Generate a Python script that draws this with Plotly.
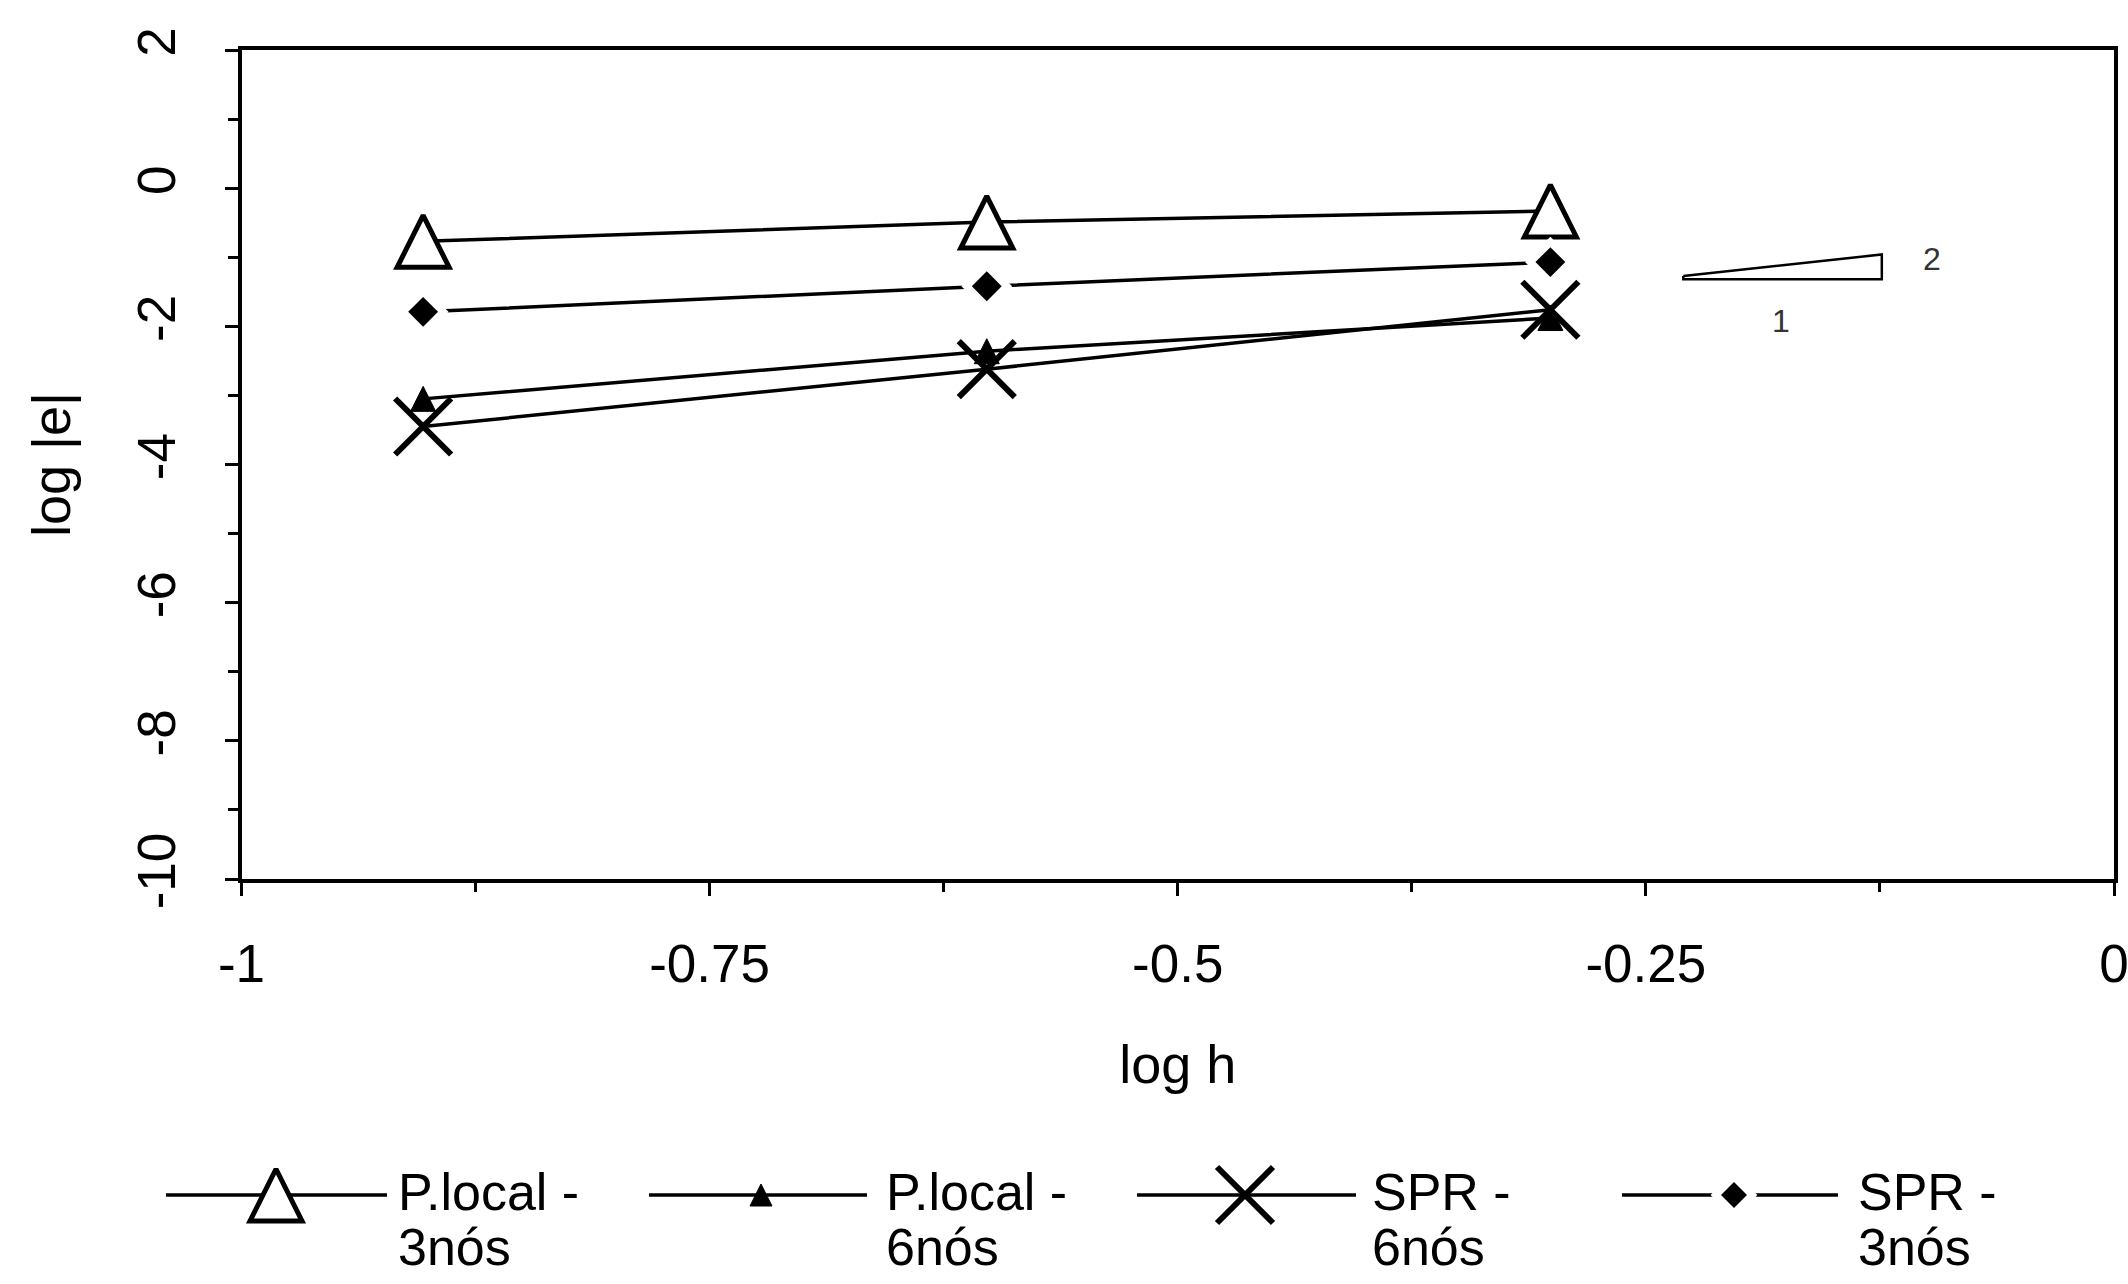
import plotly.graph_objects as go

W, H = 2128, 1284

# ---------------- data ----------------
log_h = [-0.903, -0.602, -0.301]
plocal_3nos = [-0.77, -0.49, -0.33]
plocal_6nos = [-3.05, -2.36, -1.88]
spr_6nos = [-3.45, -2.62, -1.76]
spr_3nos = [-1.79, -1.42, -1.07]

legend_line1 = ["P.local -", "P.local -", "SPR -", "SPR -"]
legend_line2 = ["3nós", "6nós", "6nós", "3nós"]
series_names = ["P.local - 3nós", "P.local - 6nós", "SPR - 6nós", "SPR - 3nós"]

x_tickvals = [-1, -0.75, -0.5, -0.25, 0]
x_ticktext = ["-1", "-0.75", "-0.5", "-0.25", "0"]
y_tickvals = [2, 0, -2, -4, -6, -8, -10]
y_ticktext = ["2", "0", "-2", "-4", "-6", "-8", "-10"]

# slope indicator (2:1) drawn in data units
slope_x = [-0.230, -0.124, -0.124, -0.230, -0.230]
slope_y = [-1.27, -0.96, -1.32, -1.32, -1.27]
slope_labels = ["2", "1"]
slope_label_x = [-0.097, -0.178]
slope_label_y = [-1.03, -1.93]

# ---------------- layout constants (pixels) ----------------
PL, PR, PT, PB = 241.5, 2114, 50, 879
xdom = [PL / W, PR / W]
ydom = [1 - PB / H, 1 - PT / H]
FONT = "Liberation Sans, Arial, sans-serif"
LW = 3.5

def tri_open(size):
    return dict(symbol="arrow-down", angle=180, standoff=size / 2, size=size,
                color="white", line=dict(color="black", width=5))

def tri_filled(size):
    return dict(symbol="arrow-down", angle=180, standoff=size / 2, size=size,
                color="black", line=dict(color="black", width=1))

def x_mark(size):
    return dict(symbol="x-thin-open", size=size, color="black",
                line=dict(color="black", width=6))

def diamond(size):
    return dict(symbol="diamond", size=size, color="black", line=dict(width=0))

def diamond_halo(size):
    return dict(symbol="diamond", size=size + 16, color="white", line=dict(width=0))

fig = go.Figure()

# ---------------- data series ----------------
fig.add_trace(go.Scatter(x=log_h, y=plocal_3nos, name=series_names[0], mode="lines+markers",
                         line=dict(color="black", width=LW), marker=tri_open(52)))
fig.add_trace(go.Scatter(x=log_h, y=plocal_6nos, name=series_names[1], mode="lines+markers",
                         line=dict(color="black", width=LW), marker=tri_filled(25)))
fig.add_trace(go.Scatter(x=log_h, y=spr_6nos, name=series_names[2], mode="lines+markers",
                         line=dict(color="black", width=LW), marker=x_mark(56)))
fig.add_trace(go.Scatter(x=log_h, y=spr_3nos, name=series_names[3], mode="lines+markers",
                         line=dict(color="black", width=LW), marker=diamond_halo(23)))
fig.add_trace(go.Scatter(x=log_h, y=spr_3nos, name=series_names[3], mode="markers",
                         marker=diamond(23), showlegend=False))

# slope indicator
fig.add_trace(go.Scatter(x=slope_x, y=slope_y, mode="lines",
                         line=dict(color="black", width=2.5), showlegend=False))
for t, sx, sy in zip(slope_labels, slope_label_x, slope_label_y):
    fig.add_annotation(x=sx, y=sy, xref="x", yref="y", text=t, showarrow=False,
                       font=dict(family=FONT, size=32, color="#333"))

# ---------------- custom legend (pixel coordinate subplot) ----------------
leg_y = 1195
leg_text_y = [1192, 1247]
leg_line_x = [(166, 387), (649, 867), (1137, 1356), (1622, 1838)]
leg_mark_x = [276, 761, 1245, 1734]
leg_text_x = [396, 884, 1370, 1856]
leg_markers = [[tri_open(52)], [tri_filled(22)], [x_mark(56)], [diamond_halo(20), diamond(20)]]
for i in range(4):
    x0, x1 = leg_line_x[i]
    fig.add_trace(go.Scatter(x=[x0, x1], y=[leg_y, leg_y], mode="lines", xaxis="x5", yaxis="y5",
                             line=dict(color="black", width=LW), showlegend=False, hoverinfo="skip"))
    for m in leg_markers[i]:
        fig.add_trace(go.Scatter(x=[leg_mark_x[i]], y=[leg_y], mode="markers", xaxis="x5", yaxis="y5",
                                 marker=m, showlegend=False, hoverinfo="skip"))
    for txt, ty in zip((legend_line1[i], legend_line2[i]), leg_text_y):
        fig.add_annotation(x=leg_text_x[i], y=ty, xref="x5", yref="y5", text=txt,
                           showarrow=False, xanchor="left", yanchor="middle", align="left",
                           font=dict(family=FONT, size=52, color="black"))

# ---------------- axes ----------------
tickfont = dict(family=FONT, size=53, color="black")
base = dict(showgrid=False, zeroline=False, fixedrange=True)

xmain = dict(base, domain=xdom, range=[-1, 0], anchor="y", side="bottom",
             showline=True, linecolor="black", linewidth=4, mirror=True,
             ticks="outside", ticklen=13, tickwidth=3, tickcolor="black",
             tickmode="array", tickvals=x_tickvals, ticktext=x_ticktext,
             tickfont=tickfont, ticklabelstandoff=22, ticklabeloverflow="allow",
             minor=dict(ticks="outside", ticklen=9, tickwidth=2.5, tickcolor="black",
                        tickmode="linear", tick0=-1, dtick=0.125),
             title=dict(text="log h", font=dict(family=FONT, size=54, color="black"), standoff=55))
x_in = dict(base, overlaying="x", domain=xdom, range=[-1, 0], anchor="y", side="bottom",
            showline=False, ticks="inside", ticklen=13, tickwidth=3, tickcolor="black",
            tickmode="array", tickvals=x_tickvals, showticklabels=False,
            minor=dict(ticks="inside", ticklen=9, tickwidth=2.5, tickcolor="black",
                       tickmode="linear", tick0=-1, dtick=0.125))
x_top_out = dict(base, overlaying="x", domain=xdom, range=[-1, 0], anchor="y", side="top",
                 showline=False, ticks="outside", ticklen=13, tickwidth=3, tickcolor="black",
                 tickmode="array", tickvals=x_tickvals, showticklabels=False)
x_top_in = dict(x_top_out, ticks="inside")

ymain = dict(base, domain=ydom, range=[-10, 2], anchor="x", side="left",
             showline=True, linecolor="black", linewidth=4, mirror=True,
             ticks="outside", ticklen=13, tickwidth=3, tickcolor="black",
             tickmode="array", tickvals=y_tickvals, ticktext=y_ticktext,
             tickangle=-90, tickfont=tickfont, ticklabelstandoff=28,
             minor=dict(ticks="outside", ticklen=10, tickwidth=2.5, tickcolor="black",
                        tickmode="linear", tick0=0, dtick=1),
             title=dict(text="log |e|", font=dict(family=FONT, size=54, color="black"), standoff=40))
y_in = dict(base, overlaying="y", domain=ydom, range=[-10, 2], anchor="x", side="left",
            showline=False, ticks="inside", ticklen=13, tickwidth=3, tickcolor="black",
            tickmode="array", tickvals=y_tickvals, showticklabels=False,
            minor=dict(ticks="inside", ticklen=10, tickwidth=2.5, tickcolor="black",
                       tickmode="linear", tick0=0, dtick=1))
y_right_out = dict(base, overlaying="y", domain=ydom, range=[-10, 2], anchor="x", side="right",
                   showline=False, ticks="outside", ticklen=13, tickwidth=3, tickcolor="black",
                   tickmode="array", tickvals=y_tickvals, showticklabels=False)
y_right_in = dict(y_right_out, ticks="inside")

fig.update_layout(
    width=W, height=H,
    margin=dict(l=0, r=0, t=0, b=0, autoexpand=False),
    paper_bgcolor="white", plot_bgcolor="rgba(0,0,0,0)",
    showlegend=False,
    xaxis=xmain, xaxis2=x_in, xaxis3=x_top_out, xaxis4=x_top_in,
    yaxis=ymain, yaxis2=y_in, yaxis3=y_right_out, yaxis4=y_right_in,
    xaxis5=dict(base, domain=[0, 1], range=[0, W], anchor="y5", visible=False),
    yaxis5=dict(base, domain=[0, 1], range=[H, 0], anchor="x5", visible=False),
)

fig.write_html("out.html")
